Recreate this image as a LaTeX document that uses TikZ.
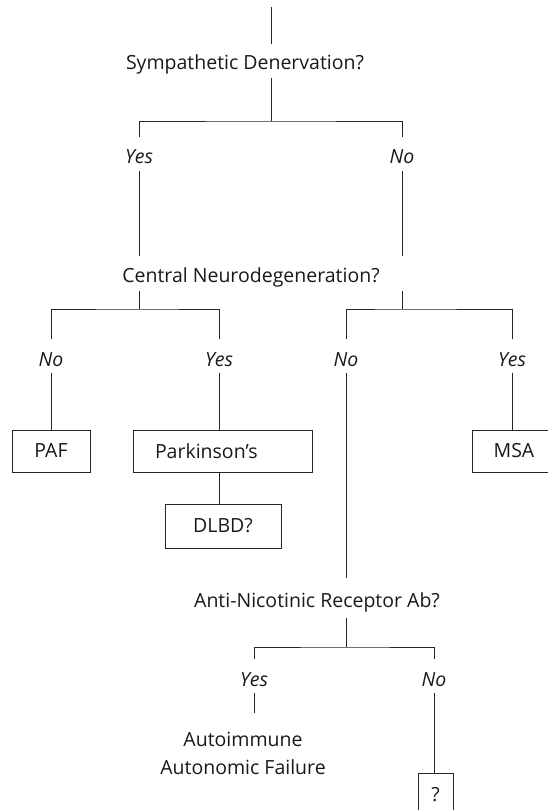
\documentclass[tikz,border=0pt]{standalone}
\usepackage{fontspec}
\setmainfont{Open Sans}
\begin{document}
\begin{tikzpicture}[x=1pt,y=-1pt,
  line width=0.9pt, draw={black!85},
  txt/.style={font=\fontsize{19.5}{24}\selectfont, inner sep=0pt, text=black!90},
  qnode/.style={txt, minimum height=#1, text height=18pt, text depth=0pt},
  ans/.style={txt, font=\itshape\fontsize{19.5}{24}\selectfont, minimum height=34pt,
    text height=20pt, text depth=0pt},
  leaf/.style={txt, draw, minimum width=#1},
]
\useasboundingbox (0,0) rectangle (548,810);
\clip (0,0) rectangle (548,810);

% first question
\coordinate (top) at (271,7);
\coordinate (j1) at (271,121);
\node[qnode=34pt] (sd) at (245,61) {Sympathetic Denervation?};
\draw (top) -- (top |- sd.north);
\draw (j1 |- sd.south) -- (j1);

\node[ans] (y1) at (139,154) {Yes};
\node[ans] (n1) at (402,154) {No};
\draw (y1.north) |- (j1) -| (n1.north);

% second question
\node[qnode=35pt] (cn) at (251,273.5) {Central Neurodegeneration?};
\draw (y1.south) -- (y1.south |- cn.north);
\draw (n1.south) -- (n1.south |- cn.north);
\coordinate (j2) at (139,309);
\coordinate (j3) at (402,309);
\draw (j2 |- cn.south) -- (j2);
\draw (j3 |- cn.south) -- (j3);

\node[ans] (n2a) at (51,356) {No};
\node[ans] (y2a) at (219,356) {Yes};
\node[ans] (n2b) at (346,356) {No};
\node[ans] (y2b) at (512,356) {Yes};
\draw (n2a.north) |- (j2) -| (y2a.north);
\draw (n2b.north) |- (j3) -| (y2b.north);

% leaves of the left branch
\node[leaf=78pt, minimum height=42pt] (paf) at (51,451) {PAF};
\node[leaf=179pt, minimum height=42pt, align=left, text width=135pt] (park) at (222.5,451) {Parkinson's};
\node[leaf=116pt, minimum height=44pt] (dlbd) at (223,526) {DLBD?};
\node[leaf=84pt, minimum height=42pt] (msa) at (514,451) {MSA};
\draw (n2a.south) -- (n2a.south |- paf.north);
\draw (y2a.south) -- (y2a.south |- park.north);
\draw (y2a.south |- park.south) -- (y2a.south |- dlbd.north);
\draw (y2b.south) -- (y2b.south |- msa.north);

% antibody question
\node[qnode=40pt] (ab) at (317,598) {Anti-Nicotinic Receptor Ab?};
\draw (n2b.south) -- (n2b.south |- ab.north);
\coordinate (j4) at (346,647);
\draw (j4 |- ab.south) -- (j4);

\node[ans] (y3) at (254,676) {Yes};
\node[ans] (n3) at (434,676) {No};
\draw (y3.north) |- (j4) -| (n3.north);

\node[txt, align=center, outer ysep=19pt, anchor=north] (aaf) at (243,713)
  {Autoimmune\\[4pt]Autonomic Failure};
\draw (y3.south) -- (y3.south |- aaf.north);

\node[leaf=35pt, minimum height=44pt] (unk) at (435.5,795) {?};
\draw (n3.south) -- (n3.south |- unk.north);
\end{tikzpicture}
\end{document}
